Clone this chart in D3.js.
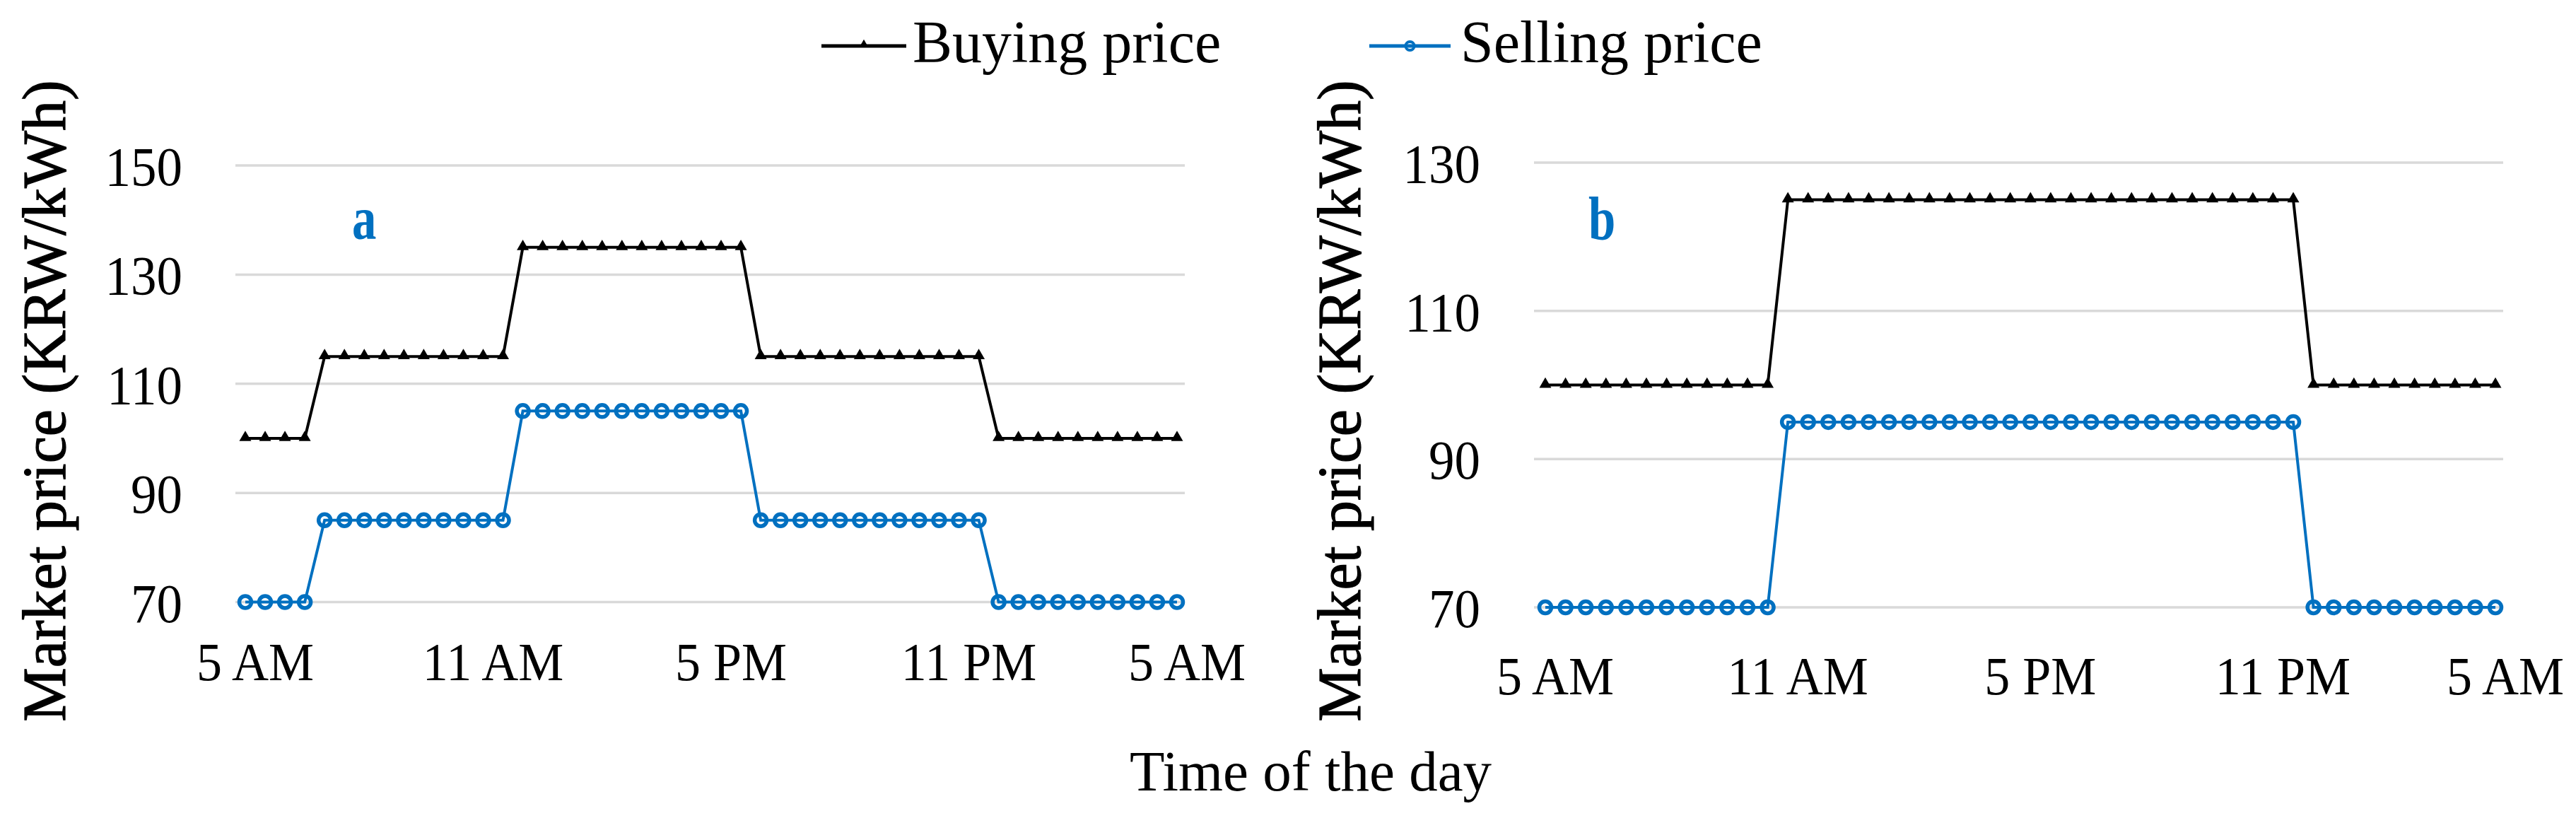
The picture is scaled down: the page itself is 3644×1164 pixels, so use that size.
<!DOCTYPE html>
<html><head><meta charset="utf-8">
<script src="https://cdn.jsdelivr.net/npm/d3@7"></script>
<style>body{margin:0;background:#fff}svg{display:block}</style>
</head><body>
<script>
// ---- data ----
const timeLabels = ["5 AM", "11 AM", "5 PM", "11 PM", "5 AM"];
const timeLabelIndex = [0, 12, 24, 36, 47];
const yTicksA = [70, 90, 110, 130, 150];
const yTicksB = [70, 90, 110, 130];
const buyingA = [100,100,100,100,
  115,115,115,115,115,115,115,115,115,115,
  135,135,135,135,135,135,135,135,135,135,135,135,
  115,115,115,115,115,115,115,115,115,115,115,115,
  100,100,100,100,100,100,100,100,100,100];
const sellingA = [70,70,70,70,
  85,85,85,85,85,85,85,85,85,85,
  105,105,105,105,105,105,105,105,105,105,105,105,
  85,85,85,85,85,85,85,85,85,85,85,85,
  70,70,70,70,70,70,70,70,70,70];
const buyingB = [100,100,100,100,100,100,100,100,100,100,100,100,
  125,125,125,125,125,125,125,125,125,125,125,125,125,
  125,125,125,125,125,125,125,125,125,125,125,125,125,
  100,100,100,100,100,100,100,100,100,100];
const sellingB = [70,70,70,70,70,70,70,70,70,70,70,70,
  95,95,95,95,95,95,95,95,95,95,95,95,95,
  95,95,95,95,95,95,95,95,95,95,95,95,95,
  70,70,70,70,70,70,70,70,70,70];
const seriesNames = ["Buying price", "Selling price"];
const panelNames = ["a", "b"];

// ---- drawing ----
const W = 3644, H = 1164;
const BLUE = "#0070C0";
const FONT = "'Liberation Serif','Times New Roman',serif";
const svg = d3.select("body").append("svg").attr("width", W).attr("height", H)
  .style("font-family", FONT);

const panels = [
  {name: panelNames[0], buy: buyingA, sell: sellingA, ticks: yTicksA, domain: [70,150],
   yRange: [851.5, 234], xRange: [347, 1665], gridX: [333, 1676], tickLabelX: 258,
   titleX: 92, xLabelY: 962, panelLabel: [498, 338]},
  {name: panelNames[1], buy: buyingB, sell: sellingB, ticks: yTicksB, domain: [70,130],
   yRange: [859, 230], xRange: [2186, 3530], gridX: [2170, 3541], tickLabelX: 2094,
   titleX: 1924, xLabelY: 982, panelLabel: [2247, 338]}
];

const tri = d3.symbol().type(d3.symbolTriangle).size(125);

panels.forEach(p => {
  const x = d3.scaleLinear().domain([0, p.buy.length - 1]).range(p.xRange);
  const y = d3.scaleLinear().domain(p.domain).range(p.yRange);
  const g = svg.append("g");

  // gridlines
  g.selectAll("line.grid").data(p.ticks).join("line")
    .attr("x1", p.gridX[0]).attr("x2", p.gridX[1])
    .attr("y1", d => y(d)).attr("y2", d => y(d))
    .attr("stroke", "#d9d9d9").attr("stroke-width", 3.5);

  // y tick labels
  g.selectAll("text.yt").data(p.ticks).join("text")
    .attr("transform", d => `translate(${p.tickLabelX},${y(d)}) scale(1,1.07)`)
    .attr("dy", "0.36em").attr("text-anchor", "end")
    .attr("font-size", 73).attr("fill", "#000").text(d => d);

  // x tick labels
  g.selectAll("text.xt").data(timeLabels).join("text")
    .attr("transform", (d, i) => `translate(${x(timeLabelIndex[i]) + 14},${p.xLabelY}) scale(1,1.07)`)
    .attr("text-anchor", "middle")
    .attr("font-size", 72).attr("fill", "#000").text(d => d);

  // y title
  g.append("text")
    .attr("transform", `translate(${p.titleX},567) rotate(-90)`)
    .attr("text-anchor", "middle").attr("font-size", 86).attr("fill", "#000")
    .attr("stroke", "#000").attr("stroke-width", 1.2)
    .text("Market price (KRW/kWh)");

  const line = d3.line().x((d, i) => x(i)).y(d => y(d));

  // buying series
  g.append("path").datum(p.buy).attr("d", line)
    .attr("fill", "none").attr("stroke", "#000").attr("stroke-width", 4);
  g.selectAll("path.tri").data(p.buy).join("path")
    .attr("transform", (d, i) => `translate(${x(i)},${y(d) - 1})`)
    .attr("d", tri).attr("fill", "#000");

  // selling series
  g.append("path").datum(p.sell).attr("d", line)
    .attr("fill", "none").attr("stroke", BLUE).attr("stroke-width", 4);
  g.selectAll("circle.sell").data(p.sell).join("circle")
    .attr("cx", (d, i) => x(i)).attr("cy", d => y(d)).attr("r", 8.5)
    .attr("fill", "none").attr("stroke", BLUE).attr("stroke-width", 5.5);

  // panel letter
  g.append("text").attr("x", p.panelLabel[0]).attr("y", p.panelLabel[1])
    .attr("font-size", 86).attr("font-weight", "bold").attr("fill", BLUE)
    .attr("transform", `translate(${p.panelLabel[0]},0) scale(0.8,1) translate(${-p.panelLabel[0]},0)`)
    .text(p.name);
});

// x axis title
svg.append("text").attr("x", 1854).attr("y", 1118).attr("text-anchor", "middle")
  .attr("font-size", 81).attr("fill", "#000").text("Time of the day");

// legend
const legend = [
  {name: seriesNames[0], color: "#000", x0: 1162, x1: 1282, tx: 1291, type: "tri"},
  {name: seriesNames[1], color: BLUE, x0: 1937, x1: 2052, tx: 2066, type: "circle"}
];
legend.forEach(l => {
  const lg = svg.append("g");
  lg.append("line").attr("x1", l.x0).attr("x2", l.x1).attr("y1", 65).attr("y2", 65)
    .attr("stroke", l.color).attr("stroke-width", 5);
  const cx = (l.x0 + l.x1) / 2;
  if (l.type === "tri") {
    lg.append("path").attr("transform", `translate(${cx},63)`)
      .attr("d", d3.symbol().type(d3.symbolTriangle).size(70)).attr("fill", l.color);
  } else {
    lg.append("circle").attr("cx", cx).attr("cy", 65).attr("r", 6)
      .attr("fill", "none").attr("stroke", l.color).attr("stroke-width", 4);
  }
  lg.append("text").attr("x", l.tx).attr("y", 88).attr("font-size", 84)
    .attr("fill", "#000").text(l.name);
});
</script>
</body></html>
